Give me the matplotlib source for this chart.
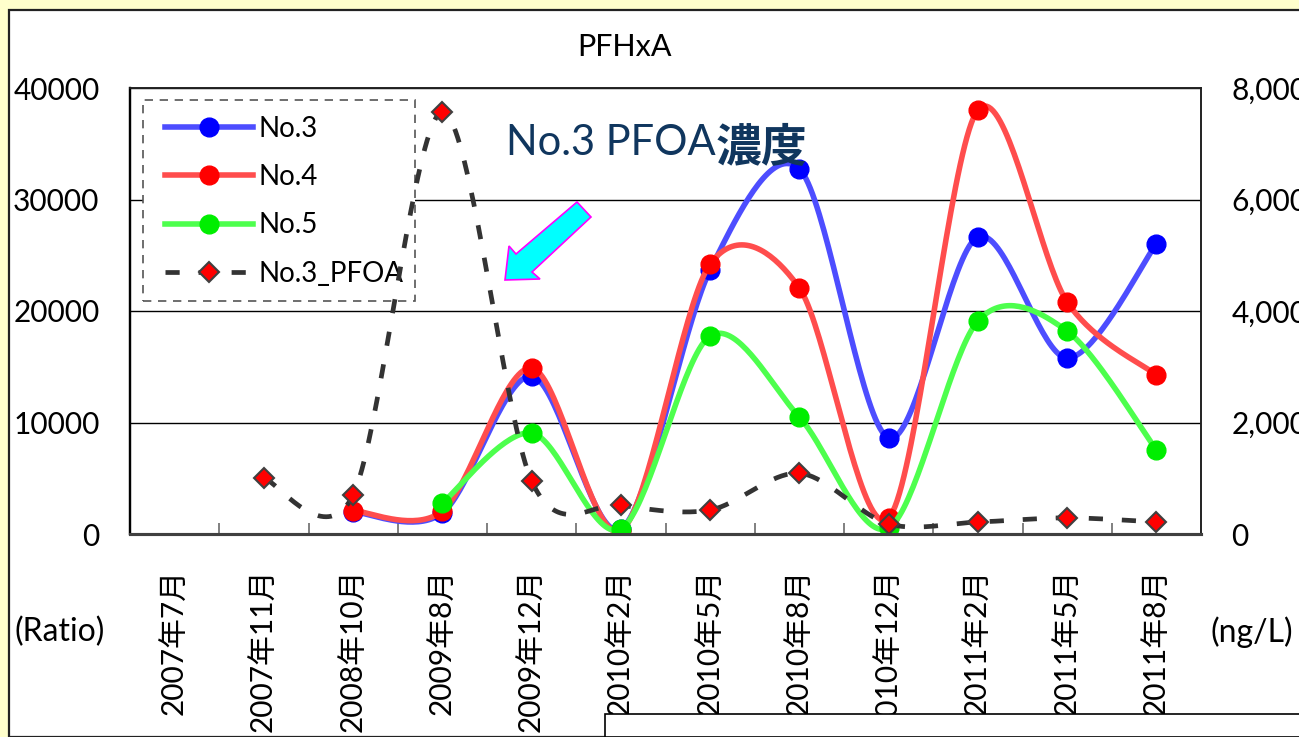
import numpy as np
import matplotlib
matplotlib.use("Agg")
import matplotlib.pyplot as plt
from matplotlib.patches import Rectangle, Polygon
from matplotlib.ticker import FuncFormatter, FixedLocator
from matplotlib.lines import Line2D

plt.rcParams['font.family'] = ['Lato', 'Noto Sans CJK JP', 'DejaVu Sans']

# ---------------- data ----------------
categories = ['2007年7月', '2007年11月', '2008年10月', '2009年8月', '2009年12月', '2010年2月',
              '2010年5月', '2010年8月', '2010年12月', '2011年2月', '2011年5月', '2011年8月']
nan = np.nan
no3 = [nan, nan, 2000, 1880, 14170, 450, 23680, 32740, 8610, 26640, 15780, 26010]
no4 = [nan, nan, 2100, 2060, 14890, 270, 24210, 22060, 1430, 38030, 20810, 14260]
no5 = [nan, nan, nan, 2780, 9060, 450, 17760, 10490, 540, 19100, 18200, 7530]
no3_pfoa = [nan, 1000, 700, 7570, 950, 520, 430, 1090, 180, 215, 290, 215]

left_ticks = [0, 10000, 20000, 30000, 40000]
right_ticks = [0, 2000, 4000, 6000, 8000]

W, H = 1299, 737


def fx(x):
    return x / W


def fy(y):
    return 1 - y / H


def smooth(xs, ys, n=40, k6=6.5):
    """Excel-like smoothed line (cubic Bezier with Catmull-Rom style control points)."""
    xs = np.asarray(xs, float)
    ys = np.asarray(ys, float)
    m = ~np.isnan(ys)
    P = np.column_stack([xs[m], ys[m]])
    out = [P[0]]
    k = len(P)
    for i in range(k - 1):
        p0 = P[i - 1] if i > 0 else P[i]
        p1 = P[i]
        p2 = P[i + 1]
        p3 = P[i + 2] if i + 2 < k else P[i + 1]
        c1 = p1 + (p2 - p0) / k6
        c2 = p2 - (p3 - p1) / k6
        t = np.linspace(0, 1, n)[1:, None]
        seg = ((1 - t) ** 3) * p1 + 3 * ((1 - t) ** 2) * t * c1 + 3 * (1 - t) * t ** 2 * c2 + t ** 3 * p2
        out.extend(seg)
    out = np.array(out)
    return out[:, 0], out[:, 1]


fig = plt.figure(figsize=(W / 100, H / 100), dpi=100)
fig.patch.set_facecolor('#FFFFCC')

# outer chart frame
fig.add_artist(Rectangle((fx(9), 0), 1 - fx(9) + 0.01, fy(10), transform=fig.transFigure,
                         facecolor='white', edgecolor='#222222', lw=1.6, zorder=-1))

ax = fig.add_axes([fx(130), fy(534), fx(1201) - fx(130), fy(88) - fy(534)])
ax2 = ax.twinx()

x = np.arange(len(categories))

series = [(no3, '#4D4DFF', '#0000FF', 'No.3'),
          (no4, '#FF4D4D', '#FF0000', 'No.4'),
          (no5, '#4DFF4D', '#00EE00', 'No.5')]
handles = []
for vals, lc, mc, name in series:
    sx, sy = smooth(x, vals)
    ax.plot(sx, sy, color=lc, lw=4.0, solid_capstyle='round', zorder=3)
    ax.plot(x, vals, ls='none', marker='o', ms=13.5, color=mc, mec=mc, zorder=3)
    handles.append(Line2D([], [], color=lc, lw=4.0, marker='o', ms=13.5, mfc=mc, mec=mc))

sx, sy = smooth(x, no3_pfoa)
ax2.plot(sx, sy, color='#333333', lw=3.4, ls=(0, (3, 4)), zorder=3)
ax2.plot(x, no3_pfoa, ls='none', marker='D', ms=10.5, mfc='#FF0000', mec='#404040', mew=1.5, zorder=4)
handles.append(Line2D([], [], color='#333333', lw=3.4, ls=(0, (3, 4)), marker='D', ms=10.5,
                      mfc='#FF0000', mec='#404040', mew=1.5))

ax.set_xlim(-0.5, len(categories) - 0.5)
ax.set_ylim(0, 40000)
ax2.set_ylim(0, 8000)

ax.set_yticks(left_ticks)
ax.yaxis.set_major_formatter(FuncFormatter(lambda v, p: f'{int(v)}'))
ax2.set_yticks(right_ticks)
ax2.yaxis.set_major_formatter(FuncFormatter(lambda v, p: f'{int(v):,}'))
ax.tick_params(axis='y', length=0, pad=22, labelsize=21.5, labelcolor='black')
ax2.tick_params(axis='y', length=0, pad=22, labelsize=21.5, labelcolor='black')

ax.set_xticks(x)
ax.set_xticklabels(categories, rotation=90, va='top', ha='center')
ax.tick_params(axis='x', which='major', length=0, pad=25, labelsize=21.5)
ax.xaxis.set_minor_locator(FixedLocator(np.arange(0.5, len(categories) - 1, 1.0)))
ax.tick_params(axis='x', which='minor', direction='in', length=8, width=1.4, color='#808080')

ax.grid(axis='y', color='black', lw=1.0)
ax.set_axisbelow(True)

for a in (ax, ax2):
    a.spines['left'].set_color('black')
    a.spines['left'].set_linewidth(1.6)
    a.spines['right'].set_color('#222222')
    a.spines['right'].set_linewidth(1.2)
    a.spines['top'].set_color('#222222')
    a.spines['top'].set_linewidth(1.2)
    a.spines['bottom'].set_color('#404040')
    a.spines['bottom'].set_linewidth(2.2)

# legend box (dashed frame drawn separately so that the padding matches)
ax.add_patch(Rectangle(((143 - 130) / 1071, (534 - 301) / 446), (415 - 143) / 1071, (301 - 100) / 446,
                       transform=ax.transAxes, facecolor='white', edgecolor='#555555', lw=1.2,
                       ls=(0, (5, 4)), zorder=2.4, clip_on=False))
leg = ax.legend(handles, ['No.3', 'No.4', 'No.5', 'No.3_PFOA'], loc='upper left',
                bbox_to_anchor=((165 - 130) / 1071, (534 - 116) / 446), fontsize=20,
                frameon=False, handlelength=3.15, handletextpad=0.2,
                labelspacing=0.8, borderpad=0.0, borderaxespad=0)
leg.set_zorder(2.5)

# titles and unit labels
fig.text(fx(624), fy(47), 'PFHxA', ha='center', va='center', fontsize=22)
fig.text(fx(14), fy(632), '(Ratio)', ha='left', va='center', fontsize=23)
fig.text(fx(1211), fy(632), '(ng/L)', ha='left', va='center', fontsize=23)

# annotation text
t1 = fig.text(fx(506), fy(155), 'No.3 PFOA', ha='left', va='baseline', fontsize=30,
              color='#10365E', family=['Lato', 'Noto Sans CJK JP'])
ax.annotate('濃度', xy=(1, 0), xycoords=t1, xytext=(0, 0), textcoords='offset points',
            ha='left', va='baseline', fontsize=33, fontweight='bold', color='#10365E',
            family=['Noto Sans CJK JP'], annotation_clip=False)

# arrow
pts = [(577, 202), (591, 217), (532, 272), (540, 279), (505, 280), (509, 246), (516, 254)]
fig.add_artist(Polygon([(fx(a), fy(b)) for a, b in pts], closed=True, transform=fig.transFigure,
                       facecolor='#00FFFF', edgecolor='#FF00FF', lw=1.2, zorder=6))

# overlapping box at bottom right
fig.add_artist(Rectangle((fx(605), 0), 1 - fx(605) + 0.01, fy(714), transform=fig.transFigure,
                         facecolor='white', edgecolor='black', lw=1.2, zorder=6))

fig.savefig('out.png', dpi=100, facecolor=fig.get_facecolor())
